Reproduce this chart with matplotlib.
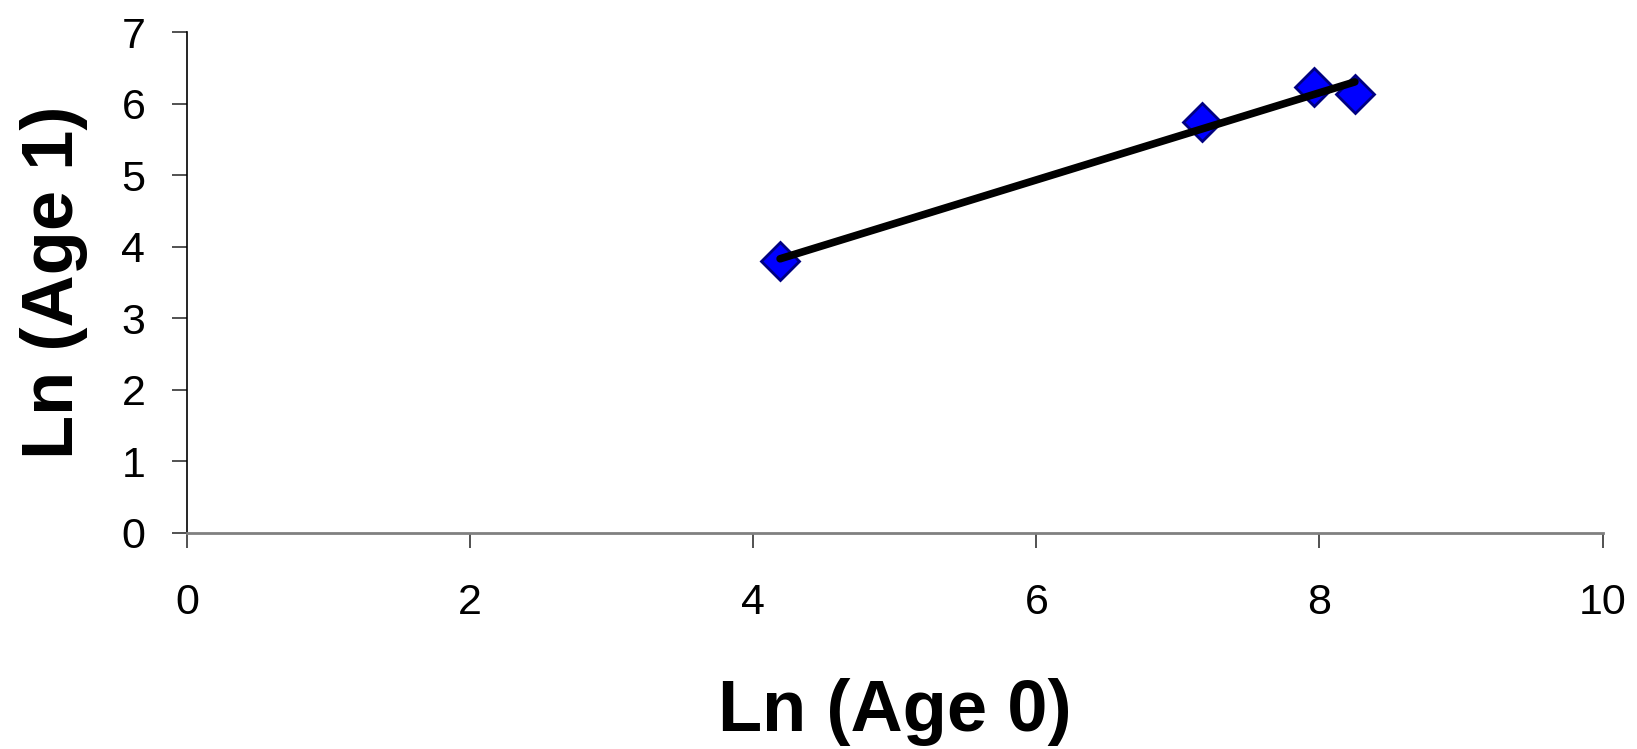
import numpy as np
import matplotlib.pyplot as plt

# log abundance, age 0 vs age 1
ln_age0 = [4.19, 7.17, 7.96, 8.25]
ln_age1 = [3.80, 5.74, 6.24, 6.14]

x_ticks = [0, 2, 4, 6, 8, 10]
y_ticks = [0, 1, 2, 3, 4, 5, 6, 7]

plt.rcParams['font.family'] = ['Liberation Sans', 'DejaVu Sans']

fig = plt.figure(figsize=(16.37, 7.49), dpi=100)
ax = fig.add_axes([0.1142, 0.289, 0.8648, 0.6677])

ax.plot(ln_age0, ln_age1, 'D', ms=19.5, mfc='#0000ff', mec='#000080', mew=2, zorder=2)

# linear trend line
slope, icpt = np.polyfit(ln_age0, ln_age1, 1)
xs = np.array([min(ln_age0), max(ln_age0)])
ax.plot(xs, slope * xs + icpt, '-', color='black', lw=5.5, solid_capstyle='round', zorder=3)

ax.set_xlim(0, 10)
ax.set_ylim(0, 7)
ax.set_xticks(x_ticks)
ax.set_yticks(y_ticks)

for s in ['top', 'right']:
    ax.spines[s].set_visible(False)
ax.spines['left'].set_color('black')
ax.spines['left'].set_linewidth(1.2)
ax.spines['bottom'].set_color('#808080')
ax.spines['bottom'].set_linewidth(2)

ax.tick_params(axis='both', direction='out', length=11, width=1.2, color='#333333',
               labelsize=31)
ax.tick_params(axis='x', pad=25)
ax.tick_params(axis='y', pad=19)

ax.set_xlabel('Ln (Age 0)', fontsize=52, fontweight='bold', labelpad=40)
ax.set_ylabel('Ln (Age 1)', fontsize=52, fontweight='bold', labelpad=24)

fig.savefig('out.png', dpi=100)
